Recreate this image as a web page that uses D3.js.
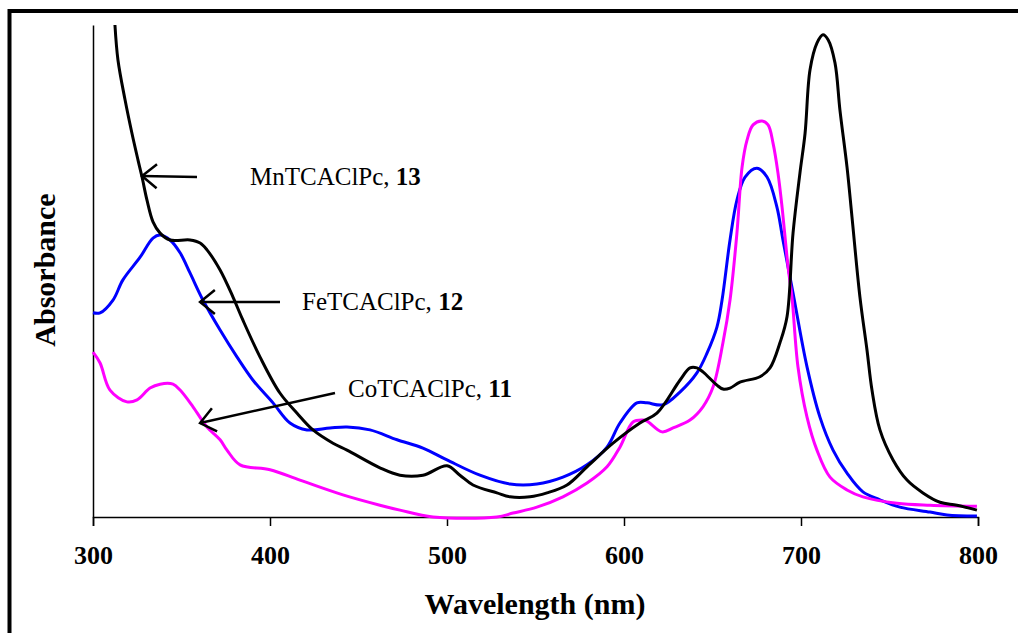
<!DOCTYPE html>
<html>
<head>
<meta charset="utf-8">
<script src="https://cdn.jsdelivr.net/npm/d3@7"></script>
<style>
  body { margin: 0; background: #fff; }
  svg { display: block; }
</style>
</head>
<body>
<div id="chart"></div>
<script>
// Spectra (wavelength in nm, absorbance in arbitrary units)
const mnWavelength = [312.4, 314.1, 318.1, 322.0, 325.4, 327.7, 330.5, 333.9, 337.9, 343.5, 354.8, 360.5, 364.4, 371.8, 379.1, 384.7, 394.4, 405.6, 415.3, 424.3, 435.6, 443.5, 462.1, 473.4, 486.4, 500.0, 507.3, 514.7, 528.2, 535.6, 546.9, 556.5, 567.8, 579.1, 593.8, 609.0, 618.6, 631.6, 637.3, 641.2, 644.6, 652.5, 655.9, 659.9, 665.5, 676.8, 682.5, 688.1, 692.1, 695.5, 699.4, 702.3, 705.1, 709.0, 712.4, 715.3, 719.2, 722.0, 726.0, 728.8, 733.3, 737.3, 740.1, 744.6, 752.0, 759.9, 768.9, 778.5, 788.1, 799.4];
const mnAbsorbance = [1.000, 0.929, 0.848, 0.780, 0.726, 0.691, 0.644, 0.600, 0.577, 0.563, 0.563, 0.557, 0.543, 0.502, 0.447, 0.400, 0.325, 0.252, 0.211, 0.177, 0.150, 0.136, 0.100, 0.085, 0.085, 0.104, 0.085, 0.065, 0.049, 0.041, 0.041, 0.049, 0.065, 0.102, 0.150, 0.191, 0.211, 0.278, 0.303, 0.303, 0.295, 0.268, 0.260, 0.262, 0.274, 0.285, 0.303, 0.354, 0.407, 0.577, 0.699, 0.780, 0.909, 0.963, 0.980, 0.970, 0.923, 0.827, 0.711, 0.610, 0.447, 0.339, 0.258, 0.177, 0.116, 0.075, 0.049, 0.030, 0.024, 0.014];

const feWavelength = [300.0, 304.0, 311.3, 316.9, 326.6, 333.9, 337.9, 343.5, 349.2, 354.8, 362.1, 371.8, 381.4, 390.4, 401.7, 411.3, 420.9, 433.9, 443.5, 456.5, 471.8, 486.4, 500.0, 518.6, 535.6, 550.8, 565.5, 579.1, 590.4, 597.7, 607.3, 613.0, 622.0, 631.6, 641.2, 646.9, 652.5, 655.4, 659.9, 663.8, 668.4, 675.1, 680.8, 686.4, 689.8, 695.5, 703.4, 710.7, 718.1, 726.0, 735.0, 744.6, 755.9, 772.9, 782.5, 799.4];
const feAbsorbance = [0.415, 0.415, 0.441, 0.482, 0.528, 0.567, 0.573, 0.563, 0.537, 0.496, 0.441, 0.380, 0.325, 0.278, 0.232, 0.191, 0.177, 0.181, 0.183, 0.177, 0.157, 0.140, 0.116, 0.085, 0.067, 0.067, 0.081, 0.106, 0.142, 0.191, 0.232, 0.232, 0.228, 0.254, 0.293, 0.333, 0.386, 0.441, 0.563, 0.644, 0.691, 0.709, 0.691, 0.630, 0.563, 0.455, 0.305, 0.203, 0.136, 0.089, 0.051, 0.035, 0.020, 0.010, 0.004, 0.002];

const coWavelength = [300.0, 304.0, 309.6, 319.2, 324.9, 332.2, 337.9, 345.2, 349.2, 356.5, 364.4, 371.8, 375.7, 383.1, 400.0, 416.9, 441.2, 462.1, 473.4, 492.1, 528.2, 537.3, 550.8, 565.5, 579.1, 590.4, 597.7, 605.1, 610.7, 613.0, 621.5, 627.7, 637.3, 644.6, 650.3, 655.9, 659.9, 663.8, 666.7, 669.5, 672.9, 678.0, 681.4, 684.2, 687.0, 689.3, 692.7, 694.9, 698.3, 703.4, 709.0, 716.4, 726.0, 735.0, 754.2, 772.9, 799.4];
const coAbsorbance = [0.335, 0.313, 0.258, 0.234, 0.238, 0.262, 0.270, 0.270, 0.258, 0.224, 0.183, 0.157, 0.136, 0.106, 0.096, 0.075, 0.045, 0.024, 0.014, 0.000, 0.000, 0.008, 0.020, 0.041, 0.069, 0.102, 0.142, 0.193, 0.197, 0.195, 0.173, 0.181, 0.197, 0.224, 0.264, 0.354, 0.441, 0.577, 0.711, 0.766, 0.797, 0.805, 0.797, 0.760, 0.699, 0.630, 0.508, 0.447, 0.305, 0.203, 0.136, 0.081, 0.055, 0.041, 0.028, 0.024, 0.022];

const xTicks = [300, 400, 500, 600, 700, 800];

// Label text and the point each arrow points at (wavelength, absorbance)
const labelNames = ["MnTCAClPc, ", "FeTCAClPc, ", "CoTCAClPc, "];
const labelNumbers = ["13", "12", "11"];
const arrowTargets = [[327.7, 0.693], [360.5, 0.437], [360.5, 0.191]];

const seriesColors = ["#000000", "#0000ff", "#ff00ff"];

const width = 1018, height = 633;
const margin = { top: 25, right: 40, bottom: 116, left: 93 };
const plotW = width - margin.left - margin.right;
const plotH = height - margin.top - margin.bottom;

const serif = "'Liberation Serif', 'Times New Roman', serif";

const svg = d3.select("#chart")
    .append("svg")
    .attr("width", width)
    .attr("height", height);

// Outer frame (runs off the right and bottom edge)
svg.append("rect")
    .attr("x", 9.5)
    .attr("y", 11)
    .attr("width", 1030)
    .attr("height", 650)
    .attr("fill", "none")
    .attr("stroke", "#000")
    .attr("stroke-width", 4);

const g = svg.append("g")
    .attr("transform", `translate(${margin.left},${margin.top})`);

const x = d3.scaleLinear().domain([300, 800]).range([0, plotW]);
const y = d3.scaleLinear().domain([0, 1]).range([plotH, 0]);

// Axes
const xAxis = g.append("g")
    .attr("transform", `translate(0,${plotH})`)
    .call(d3.axisBottom(x).tickValues(xTicks).tickSize(9).tickPadding(20).tickFormat(d3.format("d")));
xAxis.select(".domain").attr("stroke-width", 1.5);
xAxis.selectAll(".tick line").attr("stroke-width", 1.5);
xAxis.selectAll("text")
    .attr("font-family", serif)
    .attr("font-weight", "bold")
    .attr("font-size", 26)
    .attr("fill", "#000");

const yAxis = g.append("g")
    .call(d3.axisLeft(y).tickValues([]).tickSizeOuter(0));
yAxis.select(".domain").attr("stroke-width", 1.5);

// Spectra
const line = d3.line()
    .x(d => x(d[0]))
    .y(d => y(d[1]))
    .curve(d3.curveCatmullRom.alpha(0.5));

const spectra = [
    { name: "Fe", wl: feWavelength, abs: feAbsorbance, color: seriesColors[1] },
    { name: "Co", wl: coWavelength, abs: coAbsorbance, color: seriesColors[2] },
    { name: "Mn", wl: mnWavelength, abs: mnAbsorbance, color: seriesColors[0] }
];

spectra.forEach(function (s) {
    g.append("path")
        .datum(d3.zip(s.wl, s.abs))
        .attr("fill", "none")
        .attr("stroke", s.color)
        .attr("stroke-width", 3)
        .attr("stroke-linejoin", "round")
        .attr("d", line);
});

// Labels with arrows
const labelPos = [[157, 160], [209, 285], [255, 372]];   // text start, relative to plot
const arrowTails = [[104, 152], [187, 277], [242, 368]];

labelNames.forEach(function (name, i) {
    const tx = x(arrowTargets[i][0]), ty = y(arrowTargets[i][1]);
    const sx = arrowTails[i][0], sy = arrowTails[i][1];
    g.append("line")
        .attr("x1", sx).attr("y1", sy)
        .attr("x2", tx).attr("y2", ty)
        .attr("stroke", "#000")
        .attr("stroke-width", 2.5);
    const ang = Math.atan2(sy - ty, sx - tx);
    const head = [-0.68, 0.68].map(function (da) {
        return [tx + 19 * Math.cos(ang + da), ty + 19 * Math.sin(ang + da)];
    });
    g.append("path")
        .attr("d", `M${head[0][0]},${head[0][1]}L${tx},${ty}L${head[1][0]},${head[1][1]}`)
        .attr("fill", "none")
        .attr("stroke", "#000")
        .attr("stroke-width", 2.5);

    const t = g.append("text")
        .attr("x", labelPos[i][0])
        .attr("y", labelPos[i][1])
        .attr("font-family", serif)
        .attr("font-size", 25)
        .attr("fill", "#000");
    t.append("tspan").text(name);
    t.append("tspan").attr("font-weight", "bold").text(labelNumbers[i]);
});

// Axis titles
svg.append("text")
    .attr("x", 535)
    .attr("y", 614)
    .attr("text-anchor", "middle")
    .attr("font-family", serif)
    .attr("font-weight", "bold")
    .attr("font-size", 30)
    .text("Wavelength (nm)");

svg.append("text")
    .attr("transform", "translate(55,270) rotate(-90)")
    .attr("text-anchor", "middle")
    .attr("font-family", serif)
    .attr("font-weight", "bold")
    .attr("font-size", 30)
    .text("Absorbance");
</script>
</body>
</html>
